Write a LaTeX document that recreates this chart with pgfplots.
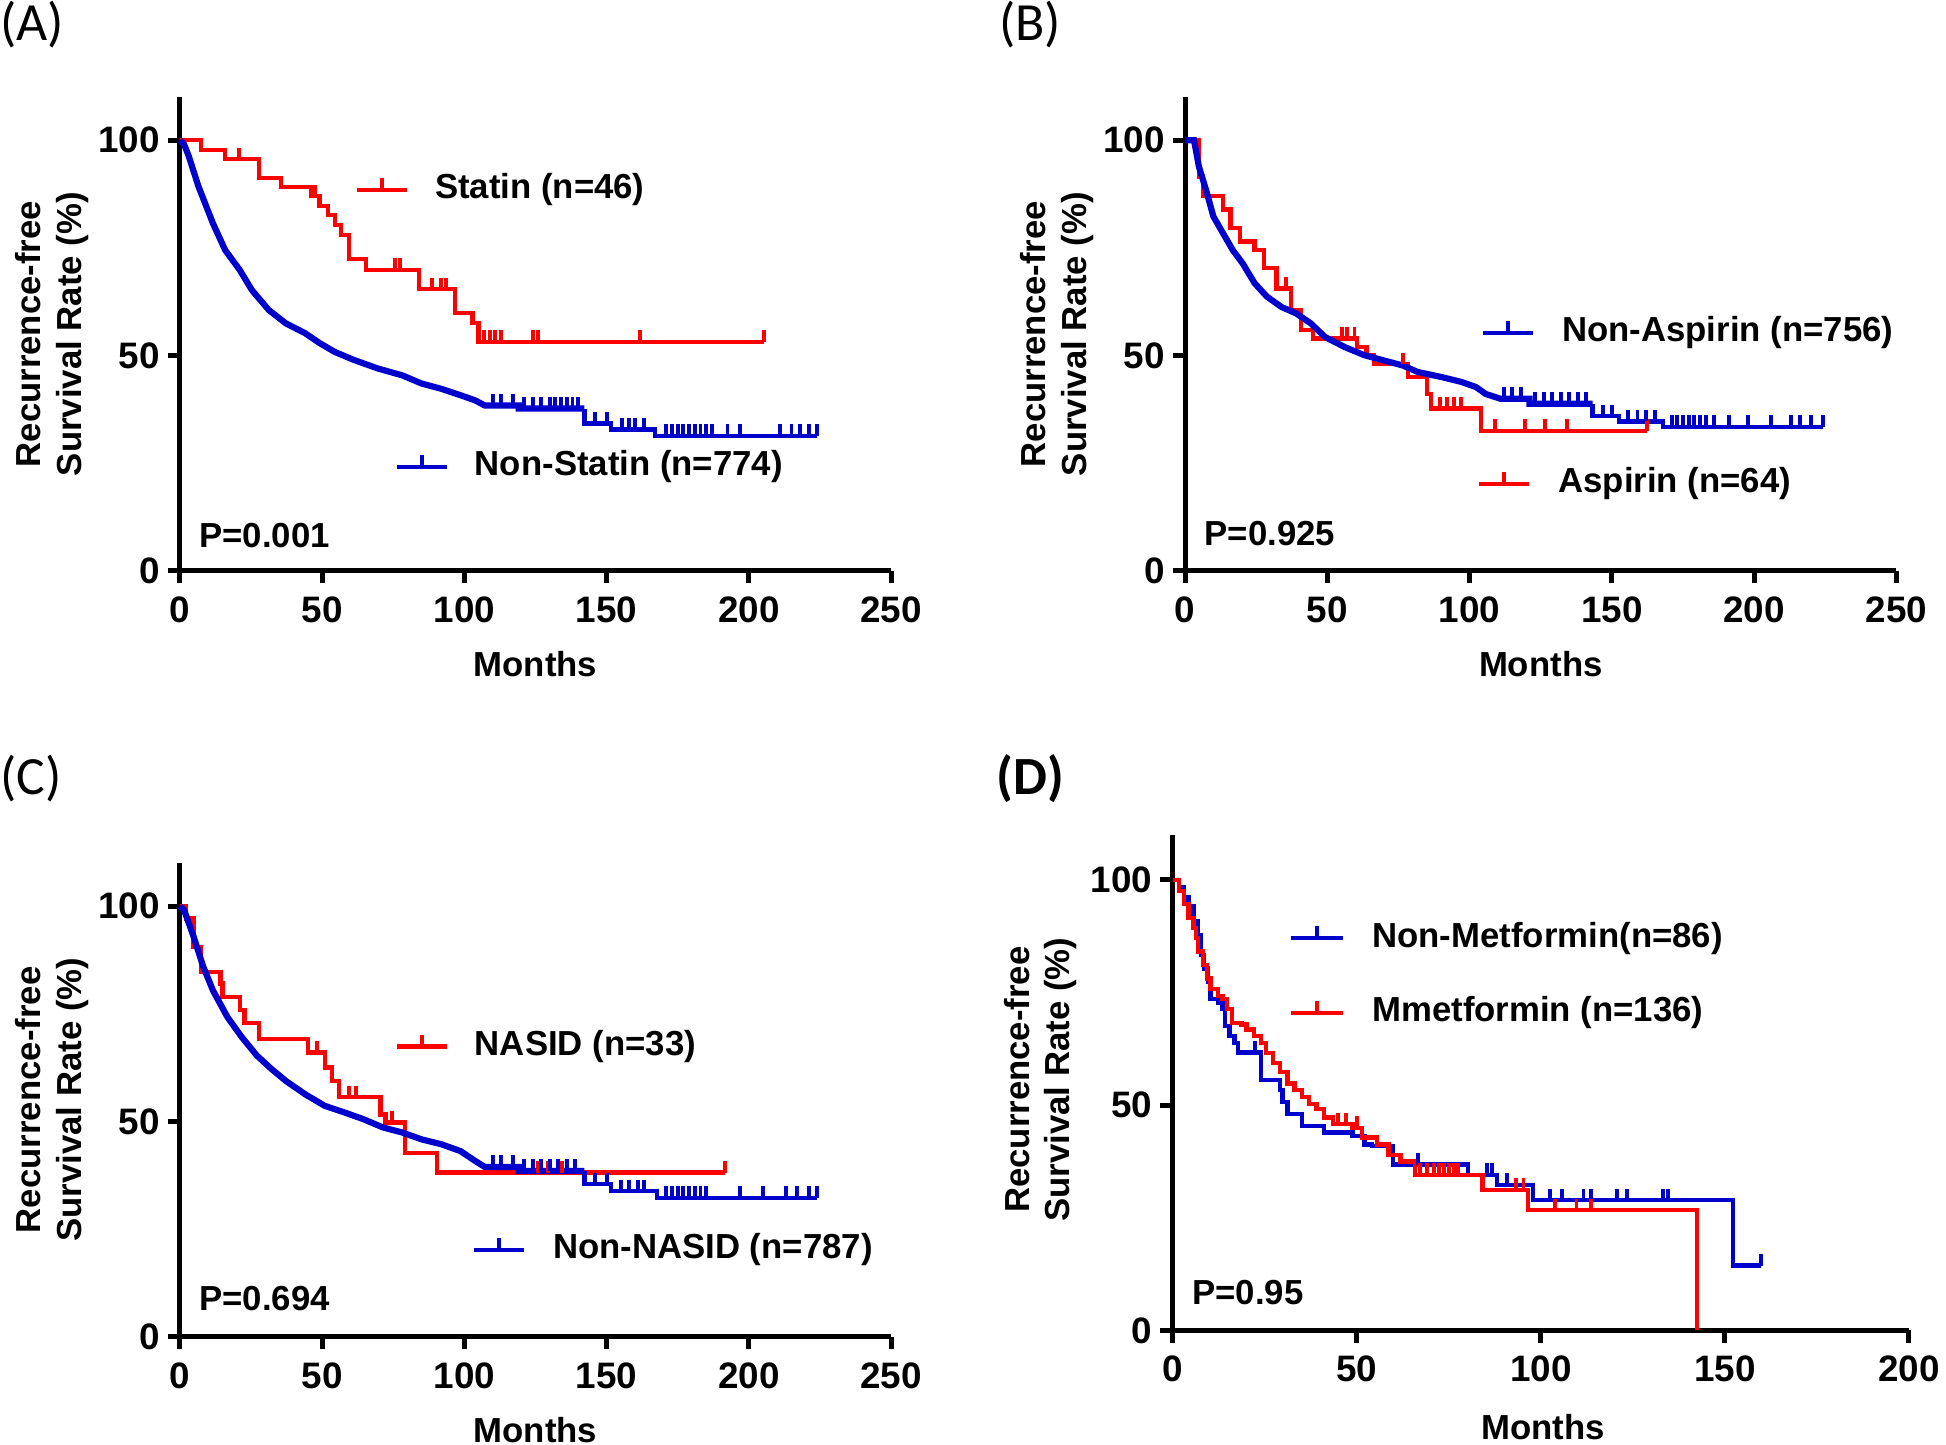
\documentclass[border=0pt]{standalone}
\usepackage{fontspec}
\setmainfont{Liberation Sans}
\newfontfamily\calib{Carlito}
\usepackage{pgfplots}
\pgfplotsset{compat=1.18}
\definecolor{kmred}{RGB}{255,0,0}
\definecolor{kmblue}{RGB}{0,0,205}
\pgfdeclareplotmark{cens}{\pgfpathmoveto{\pgfpointorigin}\pgfpathlineto{\pgfpoint{0pt}{2.8pt}}\pgfusepathqstroke}
\newcommand\lf{\fontsize{8.4}{9.8}\selectfont\bfseries}
\newcommand\tf{\fontsize{8.9}{10}\selectfont\bfseries}
\tikzset{txt/.style={anchor=west, font=\lf, inner xsep=0pt}}
\pgfplotsset{km/.style={
  scale only axis, axis lines=left, axis line style={-, line width=1.2pt},
  anchor=south west,
  ymin=0, ymax=110, xmin=0, ytick={0,50,100},
  tick align=outside, major tick length=3pt,
  every tick/.style={black, line width=1.2pt},
  clip=false,
  /pgf/number format/assume math mode=true,
  ticklabel style={font=\tf},
  yticklabel style={xshift=1.6pt},
  xticklabel style={yshift=0.3pt},
  xlabel={Months}, ylabel={Recurrence-free\\Survival Rate (\%)},
  every axis y label/.style={at={(axis description cs:-0.18,0.5)}, rotate=90, anchor=center, align=center, font=\lf},
  every axis x label/.style={at={(axis description cs:0.5,0)}, anchor=center, yshift=-22.5pt, font=\lf},
  every axis plot/.append style={line width=1.05pt},
  big/.style={line width=1.5pt},
  cen/.style={only marks, mark=cens, mark options={solid, line width=0.95pt}},
  leg/.style={mark=cens, mark indices={2}, mark options={solid, line width=0.95pt}},
}}
\begin{document}
\begin{tikzpicture}
\useasboundingbox (0,0) rectangle (470.4pt,349.2pt);
% panel labels
\node[font=\calib\fontsize{13}{13}\selectfont] at (7.8pt,343.2pt) {(A)};
\node[font=\calib\fontsize{13}{13}\selectfont] at (249pt,343.2pt) {(B)};
\node[font=\calib\fontsize{13}{13}\selectfont] at (7.5pt,161.1pt) {(C)};
\node[font=\calib\bfseries\fontsize{13}{13}\selectfont] at (249pt,161.1pt) {(D)};

% ---------------- (A) ----------------
\begin{axis}[km, at={(43.5pt,211.2pt)}, width=171.9pt, height=114.5pt, xmax=250, xtick={0,50,100,150,200,250}]
\addplot[kmred, const plot] coordinates {(0,100)(7.3,97.8)(15.9,95.6)(27.8,91.3)(35.5,89.1)(46,87.0)(49,84.8)(52,82.6)(54.5,80.4)(56.6,78.0)(59.4,72.4)(65.4,69.9)(84.1,65.4)(96.6,59.9)(102.9,57.5)(105,53.2)(205.3,53.2)};
\addplot[kmred, cen] coordinates {(20.6,95.6)(47.5,87.0)(75.6,69.9)(77.3,69.9)(88.7,65.4)(91.8,65.4)(93.5,65.4)(107,53.2)(109,53.2)(110.6,53.2)(113,53.2)(124,53.2)(126,53.2)(161.8,53.2)(205.3,53.2)};
\addplot[kmblue, big] coordinates {(0,100)(1.5,99)(3.1,96.3)(6.5,89.3)(11.6,80.7)(15.9,74.5)(21.0,69.9)(25.3,65.2)(31.2,60.6)(37.2,57.5)(44.0,55.2)(49.1,52.9)(54.3,50.9)(61.1,49.0)(69.6,47.0)(78.2,45.4)(85.0,43.5)(91.8,42.3)(98.6,40.8)(103.8,39.6)(107.2,38.4)(119.1,38.4)(119.1,37.7)(142.2,37.7)};
\addplot[kmblue] coordinates {(142.2,37.7)(142.2,34.2)(151.5,34.2)(151.5,32.8)(166.9,32.8)(166.9,31.4)(224.1,31.4)};
\addplot[kmblue, cen] coordinates {(110,38.4)(113,38.4)(117,38.4)(121,37.7)(124,37.7)(127,37.7)(130,37.7)(132,37.7)(134,37.7)(136,37.7)(138,37.7)(140,37.7)(146,34.2)(150,34.2)(155.5,32.8)(158,32.8)(160,32.8)(163,32.8)(171,31.4)(173,31.4)(175,31.4)(177,31.4)(179,31.4)(181,31.4)(183,31.4)(185,31.4)(187,31.4)(192.5,31.4)(197,31.4)(211,31.4)(215,31.4)(218,31.4)(221,31.4)(224.1,31.4)};
\addplot[kmred, leg] coordinates {(62.4,88.5)(71.1,88.5)(79.8,88.5)};
\node[txt] at (axis cs:89.4,88.5) {Statin (n=46)};
\addplot[kmblue, leg] coordinates {(76.4,24.2)(85.1,24.2)(93.8,24.2)};
\node[txt] at (axis cs:103.4,24.2) {Non-Statin (n=774)};
\node[txt] at (axis cs:6.5,8.1) {P=0.001};
\end{axis}

% ---------------- (B) ----------------
\begin{axis}[km, at={(286.5pt,211.2pt)}, width=171.9pt, height=114.5pt, xmax=250, xtick={0,50,100,150,200,250}]
\addplot[kmred, const plot] coordinates {(0,100)(4.8,91.6)(6.2,87.0)(13.3,83.9)(15.9,79.6)(19.3,76.5)(24.4,74.5)(27.8,70.3)(32.1,65.6)(37.2,60.6)(40.7,55.9)(44.9,54.0)(60.3,52.0)(63.7,50.0)(66.3,48.0)(78.2,45.0)(85.1,41.1)(86.4,37.7)(103.9,32.5)(162.3,32.5)};
\addplot[kmred, cen] coordinates {(35.5,65.6)(55,54.0)(57,54.0)(59.5,54.0)(76.5,48.0)(89.4,37.7)(92,37.7)(94.5,37.7)(97,37.7)(109,32.5)(119.3,32.5)(126.4,32.5)(134.3,32.5)(162.3,32.5)};
\addplot[kmblue, big] coordinates {(0,100)(3.1,100)(4.8,93.9)(7.3,88.5)(9.9,82.3)(13.3,78.4)(16.7,74.5)(20.2,71.4)(24.4,66.8)(28.7,63.7)(33.8,61.3)(39.0,59.8)(44.1,57.5)(49.2,54.3)(56.0,52.0)(62.9,50.1)(69.7,48.9)(76.5,47.7)(81.7,46.2)(90.2,45.0)(97.0,43.9)(102.2,42.7)(105.6,41.1)(110.7,40.0)(121.0,40.0)(121.0,38.8)(143.2,38.8)};
\addplot[kmblue] coordinates {(143.2,38.8)(143.2,35.9)(152.6,35.9)(152.6,34.7)(168.0,34.7)(168.0,33.4)(224.3,33.4)};
\addplot[kmblue, cen] coordinates {(112,40)(115,40)(118,40)(123,38.8)(126,38.8)(129,38.8)(132,38.8)(135,38.8)(138,38.8)(141,38.8)(147,35.9)(150,35.9)(155.5,34.7)(159,34.7)(162,34.7)(165,34.7)(171,33.4)(173,33.4)(175,33.4)(177,33.4)(179,33.4)(181,33.4)(183,33.4)(186,33.4)(191,33.4)(197.8,33.4)(206,33.4)(213,33.4)(216,33.4)(220,33.4)(224.3,33.4)};
\addplot[kmblue, leg] coordinates {(104.7,55.3)(113.45,55.3)(122.2,55.3)};
\node[txt] at (axis cs:132.2,55.3) {Non-Aspirin (n=756)};
\addplot[kmred, leg] coordinates {(103.4,20.2)(112.15,20.2)(120.9,20.2)};
\node[txt] at (axis cs:130.9,20.2) {Aspirin (n=64)};
\node[txt] at (axis cs:6.5,8.6) {P=0.925};
\end{axis}

% ---------------- (C) ----------------
\begin{axis}[km, at={(43.5pt,26.1pt)}, width=171.9pt, height=114.5pt, xmax=250, xtick={0,50,100,150,200,250}]
\addplot[kmred, const plot] coordinates {(0,100)(2.2,97.1)(4.8,90.5)(7.3,84.7)(14.2,82.0)(15.0,78.9)(21.0,75.8)(22.7,72.8)(27.8,69.2)(44.9,66.0)(50.9,62.5)(53.4,59.4)(56.0,55.6)(70.5,51.6)(72.2,49.7)(79.0,42.7)(90.4,38.1)(191.6,38.1)};
\addplot[kmred, cen] coordinates {(48.3,66.0)(59.4,55.6)(61.9,55.6)(74.7,49.7)(125.9,38.1)(129.3,38.1)(134.4,38.1)(191.6,38.1)};
\addplot[kmblue, big] coordinates {(0,100)(1.5,99)(4.8,92.9)(8.2,85.9)(11.6,80.4)(16.7,74.2)(21.8,69.5)(27.0,65.3)(32.1,62.2)(37.2,59.4)(44.0,56.3)(50.9,53.6)(57.7,52.1)(64.5,50.5)(71.3,48.6)(78.2,47.4)(85.0,45.8)(91.8,44.7)(98.6,43.1)(103.8,40.8)(107.2,39.4)(119.1,39.4)(119.1,38.5)(142.2,38.5)};
\addplot[kmblue] coordinates {(142.2,38.5)(142.2,35.4)(151.5,35.4)(151.5,33.8)(167.7,33.8)(167.7,32.2)(224.1,32.2)};
\addplot[kmblue, cen] coordinates {(110,39.4)(113,39.4)(117,39.4)(121,38.5)(124,38.5)(127,38.5)(130,38.5)(133,38.5)(136,38.5)(139,38.5)(146,35.4)(150,35.4)(155,33.8)(158,33.8)(161,33.8)(163,33.8)(171,32.2)(173,32.2)(175,32.2)(177,32.2)(179,32.2)(181,32.2)(183,32.2)(185,32.2)(197,32.2)(205,32.2)(213,32.2)(217,32.2)(221,32.2)(224.1,32.2)};
\addplot[kmred, leg] coordinates {(76.4,67.4)(85.1,67.4)(93.8,67.4)};
\node[txt] at (axis cs:103.4,67.4) {NASID (n=33)};
\addplot[kmblue, leg] coordinates {(103.4,20.2)(112.15,20.2)(120.9,20.2)};
\node[txt] at (axis cs:130.9,20.2) {Non-NASID (n=787)};
\node[txt] at (axis cs:6.5,8.9) {P=0.694};
\end{axis}

% ---------------- (D) ----------------
\begin{axis}[km, at={(283.5pt,27.6pt)}, width=177.9pt, height=119.8pt, xmax=200, xtick={0,50,100,150,200},
  every axis y label/.style={at={(axis description cs:-0.18,0.506)}, rotate=90, anchor=center, align=center, font=\lf},
  every axis x label/.style={at={(axis description cs:0.503,0)}, anchor=center, yshift=-23.4pt, font=\lf}]
\addplot[kmblue, const plot] coordinates {(0,100)(1.7,98.3)(3.0,96.1)(4.3,94.2)(5.6,90.8)(6.9,87.8)(7.6,83.3)(8.5,80.3)(9.6,77.3)(10.2,73.6)(12.2,72.8)(13.5,71.3)(14.1,67.6)(15.4,65.3)(16.8,63.8)(17.7,61.7)(24.0,55.6)(29.2,53.3)(29.8,50.7)(31.2,48.0)(35.1,45.4)(41.0,43.9)(48.8,43.2)(52.1,41.3)(54.1,40.9)(59.9,36.8)(80.2,34.5)(88.1,32.3)(97.9,28.9)(152.2,14.4)(159.8,14.4)};
\addplot[kmblue, cen] coordinates {(22.4,61.7)(66.5,36.8)(85.5,34.5)(86.8,34.5)(90.7,32.3)(102.5,28.9)(105.8,28.9)(111.6,28.9)(113.6,28.9)(120.8,28.9)(123.4,28.9)(133.2,28.9)(134.6,28.9)(159.8,14.4)};
\addplot[kmred, const plot] coordinates {(0,100)(1.7,97.6)(3.0,94.6)(4.3,91.6)(5.6,89.3)(6.3,87.1)(6.9,84.1)(8.2,81.1)(9.3,78.1)(10.2,75.8)(12.2,74.3)(13.5,73.6)(14.8,71.3)(16.1,68.3)(18.7,67.9)(20.0,66.8)(22.0,65.3)(24.0,63.8)(25.3,61.6)(27.2,59.3)(29.2,57.4)(31.2,54.8)(33.1,53.3)(35.1,51.8)(37.0,50.3)(39.0,49.2)(41.0,47.3)(43.6,45.8)(48.8,45.0)(51.4,42.8)(55.4,41.3)(58.6,39.0)(61.9,37.5)(65.8,34.5)(84.2,31.2)(96.6,26.7)(142.4,0)};
\addplot[kmred, cen] coordinates {(45,45.8)(47,45.8)(50,45.0)(67.1,34.5)(69.1,34.5)(71.1,34.5)(72.4,34.5)(73.7,34.5)(75.0,34.5)(76.3,34.5)(77.4,34.5)(93.3,31.2)(95.3,31.2)(103.8,26.7)(109.7,26.7)(113.6,26.7)};
\addplot[kmblue, leg] coordinates {(32.0,87.1)(39.1,87.1)(46.2,87.1)};
\node[txt] at (axis cs:54.0,87.1) {Non-Metformin(n=86)};
\addplot[kmred, leg] coordinates {(32.0,70.5)(39.1,70.5)(46.2,70.5)};
\node[txt] at (axis cs:54.0,70.5) {Mmetformin (n=136)};
\node[txt] at (axis cs:5.1,8.5) {P=0.95};
\end{axis}
\end{tikzpicture}
\end{document}
